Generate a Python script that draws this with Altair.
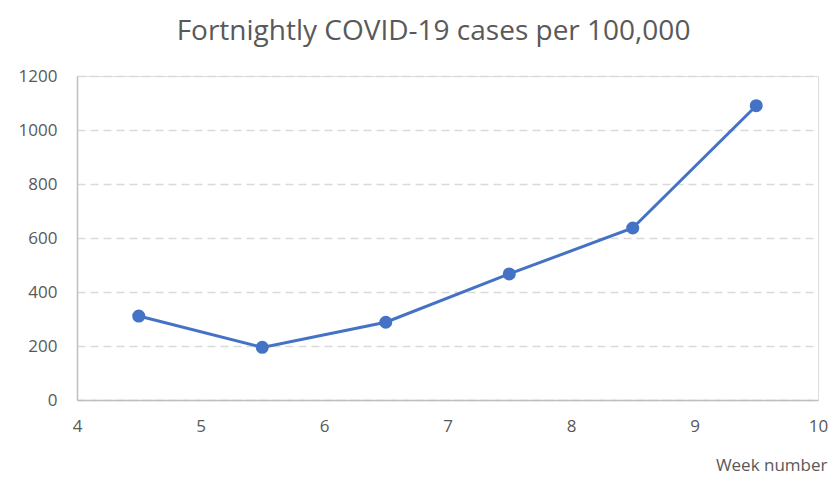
import altair as alt
import pandas as pd

weeks = [4.5, 5.5, 6.5, 7.5, 8.5, 9.5]
cases = [311, 195, 288, 467, 637, 1090]
x_ticks = [4, 5, 6, 7, 8, 9, 10]
y_ticks = [0, 200, 400, 600, 800, 1000, 1200]

df = pd.DataFrame({"week": weeks, "cases": cases})

FONT = "Open Sans"
GREY = "#595959"
BLUE = "#4472C4"

W = 741
x = alt.X(
    "week:Q",
    scale=alt.Scale(domain=[4, 10], nice=False, zero=False),
    axis=alt.Axis(
        values=x_ticks, grid=False, ticks=False, domainColor="#BFBFBF", domainWidth=1.5,
        labelFont=FONT, labelFontSize=17, labelColor=GREY, labelPadding=18,
        labelFlush=False, format="d",
        title="Week number", titleFont=FONT, titleFontSize=17, titleColor=GREY,
        titleFontWeight="normal", titleAlign="right", titleAnchor="end",
        titleX=W + 9, titleY=70, titleBaseline="alphabetic",
    ),
)
y = alt.Y(
    "cases:Q",
    scale=alt.Scale(domain=[0, 1200], nice=False),
    axis=alt.Axis(
        values=y_ticks, ticks=False, domain=True, domainColor="#BFBFBF", domainWidth=1.5,
        grid=True, gridColor="#D9D9D9", gridDash=[8, 5], gridWidth=1.5,
        labelFont=FONT, labelFontSize=17, labelColor=GREY, labelPadding=20,
        format="d", title=None,
    ),
)

line = alt.Chart(df).mark_line(color=BLUE, strokeWidth=3).encode(x=x, y=y)
pts = alt.Chart(df).mark_circle(color=BLUE, size=170, opacity=1).encode(x=x, y=y)

chart = (
    alt.layer(line, pts)
    .properties(
        width=W,
        height=324,
        autosize=alt.AutoSizeParams(type="none"),
        padding={"left": 69, "top": 68, "right": 822 - 69 - W, "bottom": 74},
        title=alt.TitleParams(
            "Fortnightly COVID-19 cases per 100,000",
            font=FONT, fontSize=28, fontWeight="normal", color=GREY,
            anchor="middle", dx=-14, offset=21,
        ),
    )
    .configure_view(stroke=None)
    .configure(background="white")
)

chart.save("out.html", embed_options={"renderer": "svg", "actions": False})
